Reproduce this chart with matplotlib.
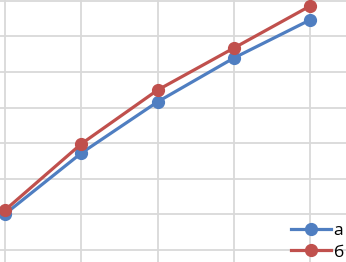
import matplotlib
matplotlib.use("Agg")
import matplotlib.pyplot as plt

# data
x_pos = [0, 1, 2, 3, 4]
series_a = [1.01, 2.72, 4.16, 5.39, 6.46]
series_b = [1.12, 2.98, 4.49, 5.67, 6.85]
labels = ["а", "б"]

blue = "#4F7EC1"
red = "#C0504D"

fig = plt.figure(figsize=(3.46, 2.62), dpi=100)
ax = fig.add_axes([0, 0, 1, 1])

ax.plot(x_pos, series_a, color=blue, lw=2.3, marker="o", ms=8.5, label=labels[0])
ax.plot(x_pos, series_b, color=red, lw=2.3, marker="o", ms=8.5, label=labels[1])

ax.set_xlim(-0.066, 4.472)
ax.set_ylim(-0.337, 7.02)
ax.set_xticks(x_pos)
ax.set_yticks(range(0, 8))
ax.grid(True, color="#D9D9D9", lw=1.3)
ax.set_axisbelow(True)
ax.tick_params(length=0, labelleft=False, labelbottom=False)
for s in ax.spines.values():
    s.set_visible(False)

# legend sits in the bottom right corner, as in the cropped original
ax.legend(loc="upper left", bbox_to_anchor=(291 / 346, 1 - 223 / 262),
          bbox_transform=fig.transFigure, frameon=False, borderpad=0,
          borderaxespad=0, handlelength=2.3, handletextpad=0.15,
          labelspacing=0.3, prop={"family": "Open Sans", "size": 12.5})

fig.savefig("out.png", dpi=100)
